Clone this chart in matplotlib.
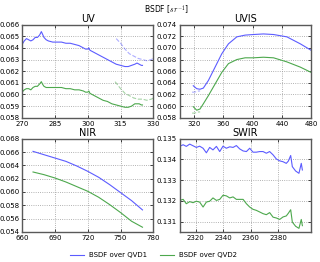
import numpy as np
import matplotlib
matplotlib.use('Agg')
import matplotlib.pyplot as plt

plt.rcParams['mathtext.fontset'] = 'cm'

BLUE = (0.36, 0.36, 1.0)
GREEN = (0.3, 0.66, 0.3)

# UV band
uv_x = [270, 271, 272, 273, 274, 275, 276, 277, 278, 278.8, 279.3, 280, 281, 282,
        284, 286, 288, 290, 292, 294, 296, 298, 299, 300, 300.5, 301, 303, 305,
        307, 309, 311, 313, 315, 317, 318.5, 320, 321.5, 322.5, 323.5, 324.5, 325]
uv_qvd1 = [0.0643, 0.0646, 0.0648, 0.0647, 0.0646, 0.0647, 0.0649, 0.0649, 0.0651,
           0.0654, 0.0652, 0.0649, 0.0647, 0.0646, 0.0645, 0.0645, 0.0645, 0.0644,
           0.0644, 0.0643, 0.0642, 0.0640, 0.0639, 0.0639, 0.0640, 0.0638, 0.0636,
           0.0634, 0.0632, 0.0630, 0.0628, 0.0626, 0.0625, 0.0624, 0.0624, 0.0625,
           0.0626, 0.0627, 0.0626, 0.0625, 0.0625]
uv_qvd2 = [0.0602, 0.0604, 0.0605, 0.0605, 0.0604, 0.0606, 0.0607, 0.0607, 0.0609,
           0.0611, 0.0609, 0.0607, 0.0606, 0.0606, 0.0606, 0.0606, 0.0606, 0.0605,
           0.0605, 0.0604, 0.0604, 0.0603, 0.0602, 0.0602, 0.0603, 0.0601, 0.0599,
           0.0597, 0.0595, 0.0594, 0.0592, 0.0591, 0.0590, 0.0589, 0.0589, 0.0590,
           0.0592, 0.0592, 0.0592, 0.0591, 0.0591]
uv_dash_x1 = [313, 315, 317, 319, 321, 323, 325, 327, 329, 330]
uv_dash_qvd1 = [0.0648, 0.0644, 0.0639, 0.0635, 0.0633, 0.0631, 0.0630, 0.0629, 0.0630, 0.0631]
uv_dash_x2 = [312.5, 315, 317, 319, 321, 323, 325, 327, 329, 330]
uv_dash_qvd2 = [0.0611, 0.0605, 0.0601, 0.0599, 0.0597, 0.0596, 0.0596, 0.0595, 0.0596, 0.0597]

# UVIS band
uvis_x = [318.6, 323.3, 327.8, 332.4, 339.3, 348.5, 357.7, 366.8, 378.3, 389.7,
          401.1, 414.8, 428.6, 446.9, 465.3, 480]
uvis_qvd1 = [0.0635, 0.0630, 0.0629, 0.0631, 0.0644, 0.0667, 0.0690, 0.0707, 0.0719,
             0.0722, 0.0723, 0.0724, 0.0723, 0.0719, 0.0707, 0.0696]
uvis_qvd2 = [0.0599, 0.0593, 0.0595, 0.0604, 0.0618, 0.0638, 0.0658, 0.0673, 0.0680,
             0.0683, 0.0683, 0.0684, 0.0683, 0.0676, 0.0667, 0.0658]
uvis_dash_x = [317, 320, 323, 326, 328]
uvis_dash_qvd1 = [0.0624, 0.0624, 0.0625, 0.0626, 0.0626]
uvis_dash_qvd2 = [0.0588, 0.0588, 0.0589, 0.0590, 0.0590]

# NIR band
nir_x = [670, 680, 690, 700, 710, 720, 730, 740, 750, 760, 770]
nir_qvd1 = [0.0661, 0.0656, 0.0651, 0.0646, 0.0639, 0.0631, 0.0622, 0.0611, 0.0599, 0.0587, 0.0573]
nir_qvd2 = [0.0630, 0.0626, 0.0621, 0.0615, 0.0608, 0.0601, 0.0592, 0.0581, 0.0569, 0.0556, 0.0547]

# SWIR band
swir_x = [2308.5, 2311, 2313.3, 2315.8, 2318.2, 2320.6, 2323, 2325.5, 2327.9, 2330.3,
          2332.7, 2335.2, 2337.6, 2340, 2342.4, 2344.9, 2347.3, 2349.7, 2352.1, 2354.6,
          2357, 2359.4, 2361.8, 2364.2, 2366.7, 2369.1, 2371.5, 2373.9, 2376.4, 2378.8,
          2381.2, 2383.6, 2386, 2387.5, 2389.2, 2390.4, 2392.8, 2395.2, 2396.9, 2397.7]
swir_qvd1 = [0.13463, 0.13471, 0.13463, 0.13474, 0.13466, 0.13458, 0.13464, 0.13454, 0.13432,
             0.13458, 0.13446, 0.13463, 0.13438, 0.13464, 0.13454, 0.13461, 0.13458, 0.13467,
             0.13451, 0.13441, 0.13438, 0.13454, 0.13435, 0.13435, 0.13438, 0.13438, 0.13430,
             0.13438, 0.13422, 0.13402, 0.13393, 0.13389, 0.13381, 0.13392, 0.13419, 0.13365,
             0.13344, 0.13333, 0.13381, 0.13349]
swir_qvd2 = [0.13202, 0.13207, 0.13186, 0.13196, 0.13191, 0.13198, 0.13194, 0.13170, 0.13194,
             0.13198, 0.13214, 0.13202, 0.13207, 0.13227, 0.13224, 0.13214, 0.13219, 0.13207,
             0.13207, 0.13207, 0.13186, 0.13170, 0.13159, 0.13154, 0.13146, 0.13138, 0.13133,
             0.13143, 0.13121, 0.13117, 0.13110, 0.13122, 0.13127, 0.13140, 0.13157, 0.13097,
             0.13077, 0.13067, 0.13110, 0.13080]

fig, axes = plt.subplots(2, 2, figsize=(3.2, 2.62), dpi=100)
fig.subplots_adjust(left=0.069, right=0.972, bottom=0.115, top=0.906, wspace=0.2, hspace=0.225)

ax = axes[0, 0]
ax.plot(uv_x, uv_qvd1, color=BLUE, lw=0.8, label='BSDF over QVD1')
ax.plot(uv_x, uv_qvd2, color=GREEN, lw=0.8, label='BSDF over QVD2')
ax.plot(uv_dash_x1, uv_dash_qvd1, color=BLUE, lw=0.8, ls='--', alpha=0.5)
ax.plot(uv_dash_x2, uv_dash_qvd2, color=GREEN, lw=0.8, ls='--', alpha=0.5)
ax.set_xlim(270, 330)
ax.set_ylim(0.058, 0.066)
ax.set_xticks([270, 285, 300, 315, 330])
ax.set_yticks(np.arange(0.058, 0.06601, 0.001))
ax.set_title('UV')

ax = axes[0, 1]
ax.plot(uvis_x, uvis_qvd1, color=BLUE, lw=0.8)
ax.plot(uvis_x, uvis_qvd2, color=GREEN, lw=0.8)
ax.plot(uvis_dash_x, uvis_dash_qvd1, color=BLUE, lw=0.8, ls='--', alpha=0.5)
ax.plot(uvis_dash_x, uvis_dash_qvd2, color=GREEN, lw=0.8, ls='--', alpha=0.5)
ax.set_xlim(300, 480)
ax.set_ylim(0.058, 0.074)
ax.set_xticks([320, 360, 400, 440, 480])
ax.set_yticks(np.arange(0.058, 0.07401, 0.002))
ax.set_title('UVIS')

ax = axes[1, 0]
ax.plot(nir_x, nir_qvd1, color=BLUE, lw=0.8)
ax.plot(nir_x, nir_qvd2, color=GREEN, lw=0.8)
ax.set_xlim(660, 780)
ax.set_ylim(0.054, 0.068)
ax.set_xticks([660, 690, 720, 750, 780])
ax.set_yticks(np.arange(0.054, 0.06801, 0.002))
ax.set_title('NIR')

ax = axes[1, 1]
ax.plot(swir_x, swir_qvd1, color=BLUE, lw=0.8)
ax.plot(swir_x, swir_qvd2, color=GREEN, lw=0.8)
ax.set_xlim(2308.5, 2404)
ax.set_ylim(0.1305, 0.135)
ax.set_xticks([2320, 2340, 2360, 2380])
ax.set_yticks([0.131, 0.132, 0.133, 0.134, 0.135])
ax.set_title('SWIR')

for ax in axes.flat:
    ax.set_title(ax.get_title(), fontsize=7, pad=2)
    ax.tick_params(labelsize=5, direction='in', length=2, width=0.5, pad=2,
                   top=True, right=True)
    ax.yaxis.set_major_formatter(matplotlib.ticker.FormatStrFormatter('%.3f'))
    ax.grid(True, ls=':', lw=0.6, color='0.6')
    for s in ax.spines.values():
        s.set_color('0.35')
        s.set_linewidth(1.0)

fig.suptitle('BSDF [$sr^{-1}$]', fontsize=5.5, x=0.52, y=0.985)
handles, labels = axes[0, 0].get_legend_handles_labels()
fig.legend(handles, labels, loc='lower center', ncol=2, frameon=False, fontsize=5,
           bbox_to_anchor=(0.48, -0.01), handlelength=2, handletextpad=0.8,
           columnspacing=1.8)

fig.savefig('out.png', dpi=100)
